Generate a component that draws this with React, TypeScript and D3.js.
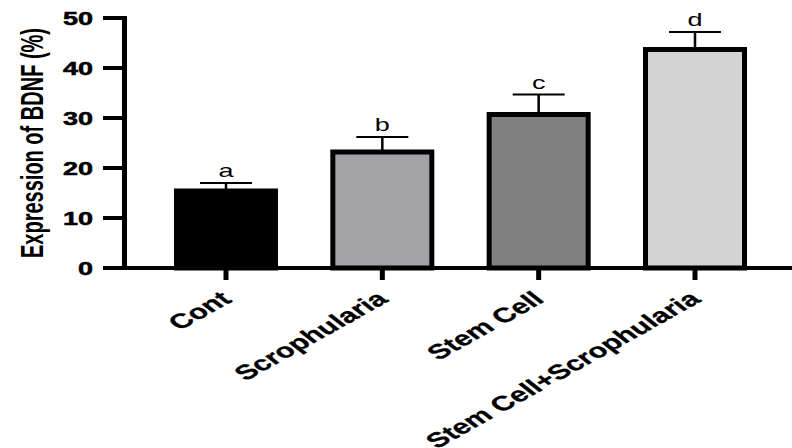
import React from "react"
import * as d3 from "d3"

const groups = ["Cont", "Scrophularia", "Stem Cell", "Stem Cell+Scrophularia"]
const means = [15.8, 23.6, 31.1, 44.1]
const errors = [1.2, 2.6, 3.6, 3.1]
const letters = ["a", "b", "c", "d"]
const fills = ["#000000", "#a3a2a7", "#808080", "#d3d3d3"]
const yTicks = [0, 10, 20, 30, 40, 50]

const W = 792
const H = 448
// the original figure is stretched sideways, so text gets scaled 1.5x in x
const SX = 1.5

export default function App() {
  const y = d3.scaleLinear().domain([0, 50]).range([268, 18])
  const x = d3.scalePoint<string>().domain(groups).range([226, 695])
  const barW = 104
  const border = 5
  const capW = 52
  const axisX = 124.5
  const font = "'Liberation Sans', Arial, Helvetica, sans-serif"

  return (
    <svg width={W} height={H} style={{ position: "absolute", left: 0, top: 0 }}>
      <rect width={W} height={H} fill="#fff" />

      {/* bars */}
      {groups.map((g, i) => {
        const cx = x(g)!
        const top = y(means[i])
        return (
          <g key={g}>
            <line x1={cx} x2={cx} y1={top} y2={y(means[i] + errors[i])} stroke="#000" strokeWidth={2.5} />
            <line x1={cx - capW / 2} x2={cx + capW / 2} y1={y(means[i] + errors[i])} y2={y(means[i] + errors[i])} stroke="#000" strokeWidth={2} />
            <rect
              x={cx - barW / 2 + border / 2}
              y={top + 2}
              width={barW - border}
              height={y(0) - top - 2}
              fill={fills[i]}
              stroke="#000"
              strokeWidth={border}
            />
            <text
              transform={`translate(${cx},${y(means[i] + errors[i]) - 6}) scale(${SX},1)`}
              textAnchor="middle"
              fontFamily={font}
              fontSize={18}
              fill="#000"
            >
              {letters[i]}
            </text>
          </g>
        )
      })}

      {/* x axis */}
      <line x1={axisX - 2.5} x2={W} y1={y(0)} y2={y(0)} stroke="#000" strokeWidth={4} />
      {groups.map(g => (
        <g key={"xt" + g}>
          <line x1={x(g)} x2={x(g)} y1={y(0)} y2={y(0) + 12} stroke="#000" strokeWidth={5} />
          <text
            transform={`translate(${x(g)! + 7},${y(0) + 33}) scale(${SX},1) rotate(-40)`}
            textAnchor="end"
            fontFamily={font}
            fontWeight="bold"
            fontSize={20.5}
            stroke="#000"
            strokeWidth={0.3}
            fill="#000"
          >
            {g}
          </text>
        </g>
      ))}

      {/* y axis */}
      <line x1={axisX} x2={axisX} y1={y(50) - 2} y2={y(0) + 2} stroke="#000" strokeWidth={5} />
      {yTicks.map(t => (
        <g key={"yt" + t}>
          <line x1={103} x2={axisX} y1={y(t)} y2={y(t)} stroke="#000" strokeWidth={4} />
          <text
            transform={`translate(93,${y(t) + 6.5}) scale(${SX},1)`}
            textAnchor="end"
            fontFamily={font}
            fontWeight="bold"
            fontSize={18}
            stroke="#000"
            strokeWidth={0.5}
            fill="#000"
          >
            {t}
          </text>
        </g>
      ))}
      <text
        transform={`translate(43,143) scale(${SX},1) rotate(-90)`}
        textAnchor="middle"
        fontFamily={font}
        fontWeight="bold"
        fontSize={21}
        textLength={230}
        lengthAdjust="spacingAndGlyphs"
        fill="#000"
      >
        Expression of BDNF (%)
      </text>
    </svg>
  )
}
